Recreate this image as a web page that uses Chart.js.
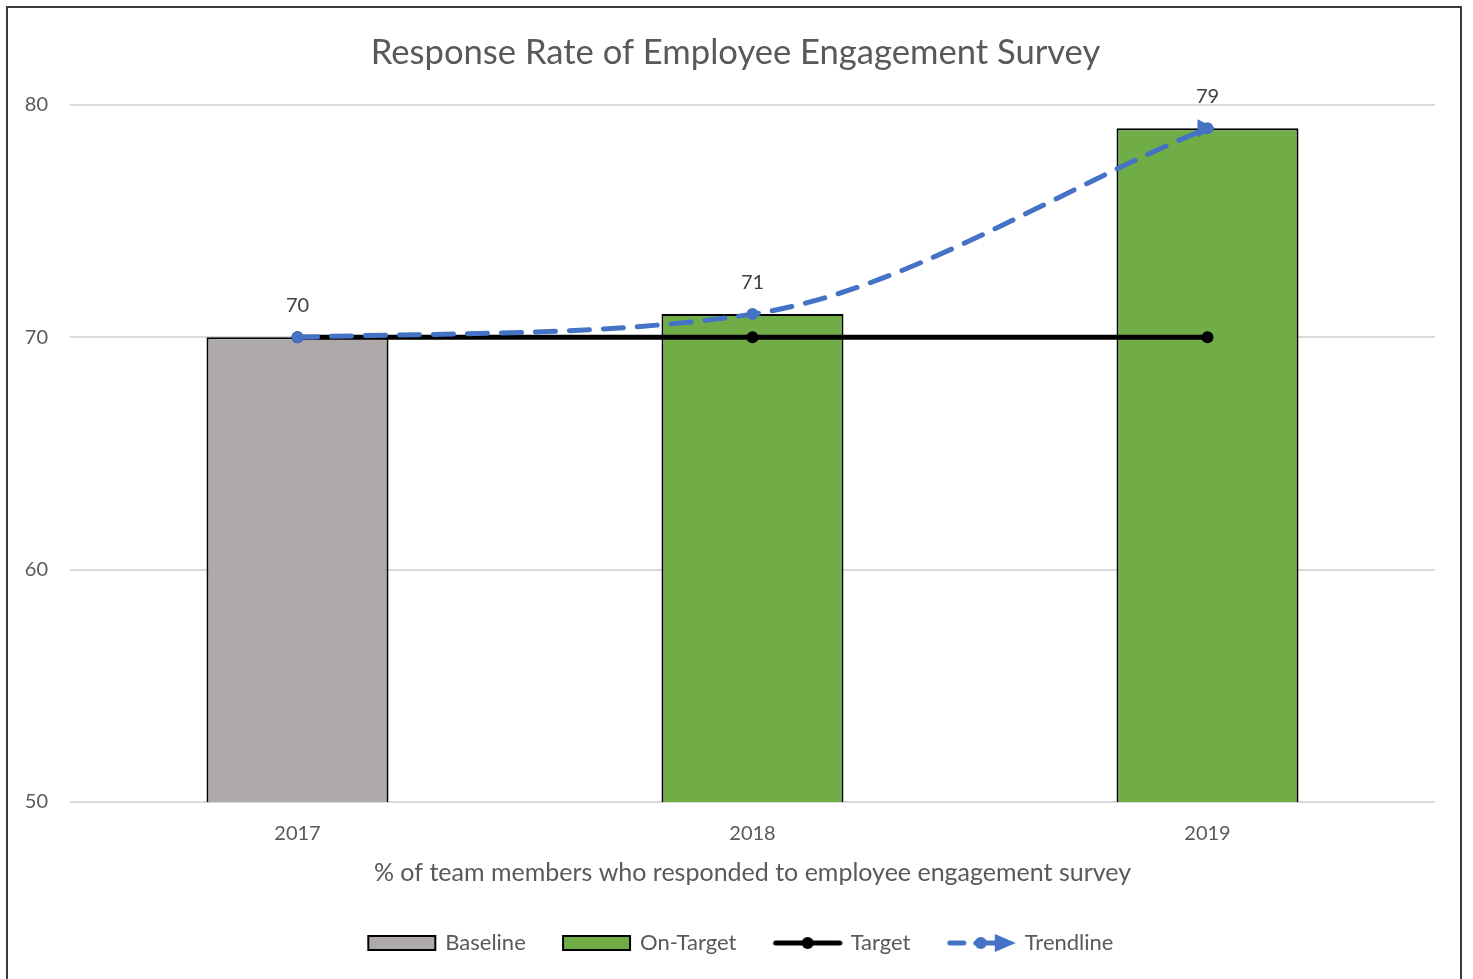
<!DOCTYPE html>
<html>
<head>
<meta charset="utf-8">
<script src="https://cdn.jsdelivr.net/npm/chart.js@4.4.1/dist/chart.umd.min.js"></script>
<style>
  html, body { margin: 0; padding: 0; background: #fff; overflow: hidden; }
  #wrap { position: relative; width: 1473px; height: 979px; }
  #frame { position: absolute; left: 6px; top: 6px; width: 1456px; height: 990px; border: 2px solid #3a3a3a; box-sizing: border-box; pointer-events: none; }
  canvas { position: absolute; left: 0; top: 0; }
</style>
</head>
<body>
<div id="wrap">
  <canvas id="chart" width="1473" height="979"></canvas>
  <div id="frame"></div>
</div>
<script>
const years = ['2017', '2018', '2019'];
const baseline = [70, null, null];
const onTarget = [null, 71, 79];
const target = [70, 70, 70];
const trend = [70, 71, 79];
const barLabels = ['70', '71', '79'];
const legendNames = ['Baseline', 'On-Target', 'Target', 'Trendline'];

const GRAY = '#AEAAAA';
const GREEN = '#70AD47';
const BLUE = '#4472C4';
const TEXT = '#595959';
const FONT = 'Lato, "Open Sans", sans-serif';

// legend symbols on little canvases; blank strip on the left = part of the gap between items
const LEAD = 18;
const SYM_W = 70 + LEAD;
function symbol(draw) {
  const c = document.createElement('canvas');
  c.width = SYM_W; c.height = 20;
  const ctx = c.getContext('2d');
  ctx.translate(LEAD, 0);
  draw(ctx);
  return c;
}
const symBaseline = symbol(ctx => {
  ctx.fillStyle = GRAY; ctx.fillRect(1, 3, 67, 14);
  ctx.strokeStyle = '#000'; ctx.lineWidth = 2; ctx.strokeRect(1, 3, 67, 14);
});
const symOnTarget = symbol(ctx => {
  ctx.fillStyle = GREEN; ctx.fillRect(1, 3, 67, 14);
  ctx.strokeStyle = '#000'; ctx.lineWidth = 2; ctx.strokeRect(1, 3, 67, 14);
});
const symTarget = symbol(ctx => {
  ctx.strokeStyle = '#000'; ctx.lineWidth = 5; ctx.lineCap = 'round';
  ctx.beginPath(); ctx.moveTo(3, 10); ctx.lineTo(67, 10); ctx.stroke();
  ctx.fillStyle = '#000'; ctx.beginPath(); ctx.arc(35, 10, 6, 0, Math.PI * 2); ctx.fill();
});
const symTrend = symbol(ctx => {
  ctx.strokeStyle = BLUE; ctx.fillStyle = BLUE; ctx.lineWidth = 5; ctx.lineCap = 'round';
  ctx.beginPath(); ctx.moveTo(3, 10); ctx.lineTo(17, 10); ctx.stroke();
  ctx.beginPath(); ctx.moveTo(29, 10); ctx.lineTo(52, 10); ctx.stroke();
  ctx.beginPath(); ctx.arc(34, 10, 6, 0, Math.PI * 2); ctx.fill();
  ctx.beginPath(); ctx.moveTo(48, 1); ctx.lineTo(69, 10); ctx.lineTo(48, 19); ctx.closePath(); ctx.fill();
});

// title and legend are centred on the whole frame in the original, not on the plot
const recenter = {
  id: 'recenter',
  afterLayout(chart) {
    if (chart.titleBlock) chart.titleBlock.left += 14;
    if (chart.legend) { chart.legend.left += 10; chart.legend.right += 10; }
  }
};

// value labels above the bars + arrow head at the end of the trendline
const extras = {
  id: 'extras',
  afterDatasetsDraw(chart) {
    const ctx = chart.ctx;
    const x = chart.scales.x, y = chart.scales.y;
    ctx.save();
    ctx.fillStyle = '#404040';
    ctx.font = '20px ' + FONT;
    ctx.textAlign = 'center';
    ctx.textBaseline = 'middle';
    trend.forEach((v, i) => {
      ctx.fillText(barLabels[i], x.getPixelForValue(i), y.getPixelForValue(v) - 32);
    });

    const meta = chart.getDatasetMeta(3);
    const last = meta.data[meta.data.length - 1];
    const px = last.controlPointPreviousX, py = last.controlPointPreviousY;
    const ang = Math.atan2(last.y - py, last.x - px);
    ctx.translate(last.x, last.y);
    ctx.fillStyle = BLUE;
    ctx.beginPath(); ctx.arc(0, 0, 6, 0, Math.PI * 2); ctx.fill();
    ctx.rotate(ang);
    ctx.beginPath();
    ctx.moveTo(8, 0);
    ctx.lineTo(-10, -9);
    ctx.lineTo(-10, 9);
    ctx.closePath();
    ctx.fill();
    ctx.restore();
  }
};

new Chart(document.getElementById('chart'), {
  data: {
    labels: years,
    datasets: [
      {
        type: 'bar', label: legendNames[0], data: baseline,
        backgroundColor: GRAY, borderColor: '#000', borderWidth: 2,
        grouped: false, order: 3
      },
      {
        type: 'bar', label: legendNames[1], data: onTarget,
        backgroundColor: GREEN, borderColor: '#000', borderWidth: 2,
        grouped: false, order: 2
      },
      {
        type: 'line', label: legendNames[2], data: target,
        borderColor: '#000', backgroundColor: '#000', borderWidth: 5,
        pointRadius: 6, pointBorderWidth: 0, pointBackgroundColor: '#000',
        tension: 0, order: 1
      },
      {
        type: 'line', label: legendNames[3], data: trend,
        borderColor: BLUE, backgroundColor: BLUE, borderWidth: 5,
        borderDash: [20, 14], borderCapStyle: 'round',
        pointRadius: [6, 6, 0], pointBorderWidth: 0, pointBackgroundColor: BLUE,
        tension: 0.4, cubicInterpolationMode: 'monotone', order: 0
      }
    ]
  },
  options: {
    responsive: false,
    animation: false,
    layout: { padding: { left: 22, right: 38, top: 0, bottom: 15 } },
    datasets: {
      bar: { categoryPercentage: 1, barPercentage: 0.4 }
    },
    plugins: {
      title: {
        display: true,
        text: 'Response Rate of Employee Engagement Survey',
        color: TEXT,
        font: { family: FONT, size: 34.6, weight: 'normal' },
        padding: { top: 32, bottom: 31.5 }
      },
      legend: {
        position: 'bottom',
        labels: {
          color: TEXT,
          font: { family: FONT, size: 22 },
          usePointStyle: true,
          pointStyleWidth: SYM_W - 6,
          boxHeight: 20,
          padding: 10,
          generateLabels(chart) {
            const syms = [symBaseline, symOnTarget, symTarget, symTrend];
            return chart.data.datasets.map((ds, i) => ({
              text: ds.label + '  ',
              datasetIndex: i,
              pointStyle: syms[i],
              fontColor: TEXT,
              hidden: false,
              lineWidth: 0
            }));
          }
        }
      },
      tooltip: { enabled: false }
    },
    scales: {
      x: {
        grid: { display: false },
        border: { display: false },
        ticks: { color: TEXT, font: { family: FONT, size: 20 }, padding: 12 },
        title: {
          display: true,
          text: '% of team members who responded to employee engagement survey',
          color: TEXT,
          font: { family: FONT, size: 25 },
          padding: { top: 0, bottom: 34 }
        }
      },
      y: {
        min: 50, max: 80,
        ticks: { stepSize: 10, color: TEXT, font: { family: FONT, size: 20 }, padding: 22 },
        grid: { color: '#D9D9D9', lineWidth: 2, drawTicks: false },
        border: { display: false },
        afterFit(scale) { scale.width = 48; }
      }
    }
  },
  plugins: [recenter, extras]
});
</script>
</body>
</html>
